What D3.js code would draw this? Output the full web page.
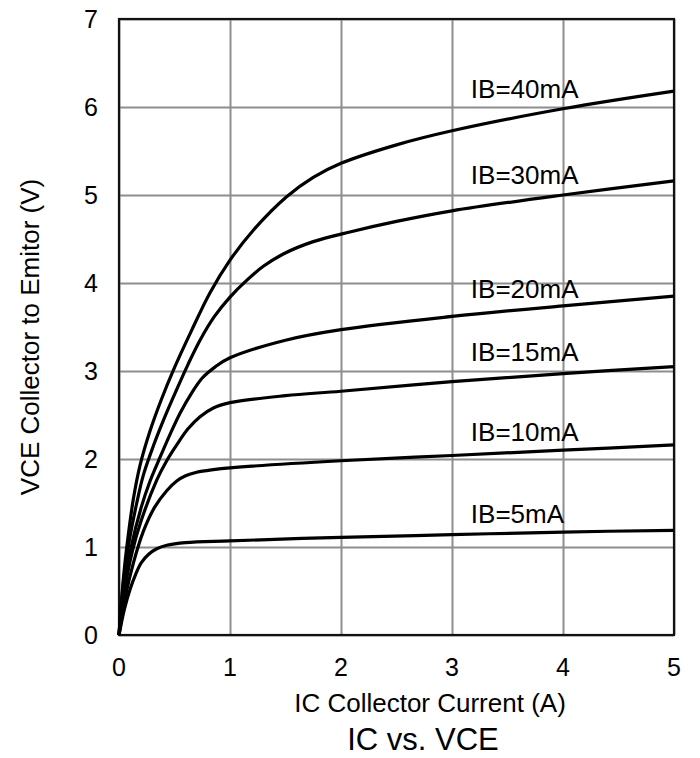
<!DOCTYPE html>
<html>
<head>
<meta charset="utf-8">
<script src="https://cdn.jsdelivr.net/npm/d3@7"></script>
<style>
    body { margin: 0; background: #fff; }
    text { font-family: "Liberation Sans", Arial, sans-serif; fill: #000; }
</style>
</head>
<body>
<svg id="chart" width="700" height="758"></svg>
<script>
"use strict";

// tick values
const xTicks = [0, 1, 2, 3, 4, 5];
const yTicks = [0, 1, 2, 3, 4, 5, 6, 7];

// IC (A), VCE (V)
const ib5 = [[0,0],[0.05,0.3],[0.1,0.52],[0.15,0.69],[0.2,0.82],[0.27,0.92],[0.34,0.98],[0.43,1.02],[0.6,1.05],[1,1.07],[2,1.11],[3,1.14],[4,1.17],[5,1.19]];
const ib10 = [[0,0],[0.06,0.45],[0.13,0.82],[0.22,1.18],[0.32,1.45],[0.43,1.64],[0.52,1.75],[0.6,1.81],[0.7,1.85],[0.85,1.88],[1,1.9],[2,1.98],[3,2.04],[4,2.1],[5,2.16]];
const ib15 = [[0,0],[0.05,0.5],[0.12,0.95],[0.2,1.3],[0.34,1.76],[0.43,1.98],[0.52,2.16],[0.62,2.34],[0.73,2.48],[0.85,2.58],[1,2.64],[1.5,2.72],[2,2.77],[3,2.88],[4,2.97],[5,3.05]];
const ib20 = [[0,0],[0.05,0.55],[0.11,1.0],[0.2,1.45],[0.28,1.75],[0.37,2.02],[0.46,2.28],[0.55,2.52],[0.65,2.74],[0.75,2.92],[0.87,3.05],[1,3.15],[1.5,3.35],[2,3.47],[3,3.62],[4,3.74],[5,3.85]];
const ib30 = [[0,0],[0.04,0.6],[0.09,1.05],[0.16,1.5],[0.22,1.82],[0.31,2.15],[0.41,2.47],[0.52,2.79],[0.62,3.07],[0.73,3.35],[0.86,3.62],[1,3.84],[1.15,4.03],[1.3,4.19],[1.48,4.33],[1.75,4.47],[2.08,4.58],[2.5,4.7],[3,4.82],[4,5.0],[5,5.16]];
const ib40 = [[0,0],[0.04,0.65],[0.08,1.1],[0.13,1.55],[0.19,1.93],[0.28,2.32],[0.38,2.67],[0.49,3.01],[0.65,3.45],[0.82,3.89],[1,4.26],[1.21,4.6],[1.51,4.98],[1.75,5.2],[2,5.36],[2.5,5.57],[3,5.73],[4,5.98],[5,6.18]];

const seriesNames = ["IB=5mA", "IB=10mA", "IB=15mA", "IB=20mA", "IB=30mA", "IB=40mA"];
const seriesData = [ib5, ib10, ib15, ib20, ib30, ib40];
// where each label sits, in data units (IC, VCE of baseline)
const labelPos = [[3.17, 1.27], [3.17, 2.2], [3.17, 3.11], [3.17, 3.83], [3.17, 5.125], [3.17, 6.1]];

const margin = {left: 119, top: 19, right: 26, bottom: 123};
const width = 700 - margin.left - margin.right;
const height = 758 - margin.top - margin.bottom;

const svg = d3.select("#chart");
const plot = svg.append("g")
    .attr("transform", "translate(" + margin.left + "," + margin.top + ")");

const x = d3.scaleLinear().domain([0, 5]).range([0, width]);
const y = d3.scaleLinear().domain([0, 7]).range([height, 0]);

// grid
const gridX = plot.append("g")
    .attr("transform", "translate(0," + height + ")")
    .call(d3.axisBottom(x).tickValues(xTicks).tickFormat("").tickSize(-height));
const gridY = plot.append("g")
    .call(d3.axisLeft(y).tickValues(yTicks).tickFormat("").tickSize(-width));
[gridX, gridY].forEach(g => {
    g.select(".domain").remove();
    g.selectAll("line").attr("stroke", "#8e8e8e").attr("stroke-width", 2);
});

// frame
plot.append("rect")
    .attr("width", width)
    .attr("height", height)
    .attr("fill", "none")
    .attr("stroke", "#111")
    .attr("stroke-width", 2.2);

// tick labels
plot.append("g").selectAll("text")
    .data(xTicks)
    .enter()
    .append("text")
    .attr("x", d => x(d))
    .attr("y", height + 41)
    .attr("text-anchor", "middle")
    .style("font-size", "25px")
    .text(d => d);

plot.append("g").selectAll("text")
    .data(yTicks)
    .enter()
    .append("text")
    .attr("x", -21)
    .attr("y", d => y(d))
    .attr("dy", "0.35em")
    .attr("text-anchor", "end")
    .style("font-size", "25px")
    .text(d => d);

// curves
const line = d3.line()
    .x(d => x(d[0]))
    .y(d => y(d[1]))
    .curve(d3.curveCatmullRom.alpha(0.5));

plot.append("g").selectAll("path")
    .data(seriesData)
    .enter()
    .append("path")
    .attr("d", line)
    .attr("fill", "none")
    .attr("stroke", "#000")
    .attr("stroke-width", 3.2)
    .attr("stroke-linejoin", "round");

plot.append("g").selectAll("text")
    .data(seriesNames)
    .enter()
    .append("text")
    .attr("x", (d, i) => x(labelPos[i][0]))
    .attr("y", (d, i) => y(labelPos[i][1]))
    .style("font-size", "26px")
    .text(d => d);

// axis titles
svg.append("text")
    .attr("x", 430)
    .attr("y", 712)
    .attr("text-anchor", "middle")
    .style("font-size", "26px")
    .text("IC Collector Current (A)");

svg.append("text")
    .attr("transform", "translate(39,337) rotate(-90)")
    .attr("text-anchor", "middle")
    .style("font-size", "26px")
    .text("VCE Collector to Emitor (V)");

svg.append("text")
    .attr("x", 423)
    .attr("y", 750)
    .attr("text-anchor", "middle")
    .style("font-size", "31px")
    .text("IC vs. VCE");
</script>
</body>
</html>
